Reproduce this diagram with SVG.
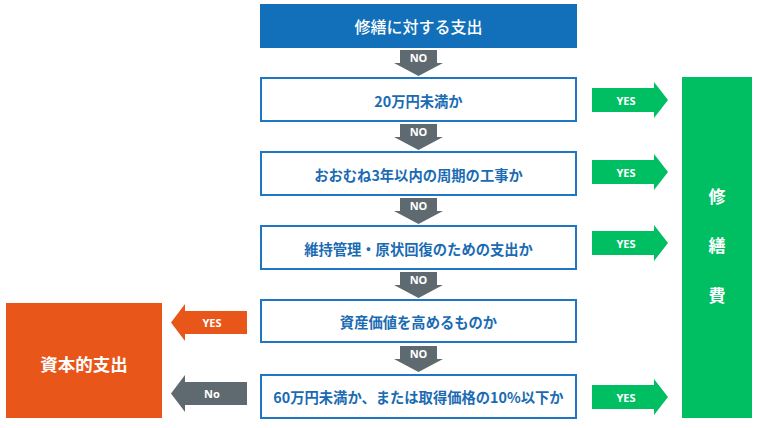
<svg xmlns="http://www.w3.org/2000/svg" width="760" height="428" viewBox="0 0 760 428">
<style>
.q{fill:#ffffff;stroke:#1f77c4;stroke-width:2}
.qt{font-family:"Noto Sans CJK JP","Noto Sans",sans-serif;font-weight:700;font-size:14.3px;fill:#1a6bb3;text-anchor:middle;dominant-baseline:central}
.lb{font-family:"Noto Sans","Liberation Sans",sans-serif;font-weight:700;font-size:11px;fill:#ffffff;text-anchor:middle;dominant-baseline:central}
.wt{font-family:"Noto Sans CJK JP",sans-serif;fill:#ffffff;text-anchor:middle;dominant-baseline:central}
.gray{fill:#5f6a70}
.green{fill:#00bf63}
.orange{fill:#e9561a}
</style>
<defs>
<path id="down" d="M400,0 H437 V13 H443 L418.5,26 L394,13 H400 Z"/>
<path id="right" d="M592,-12 H654 V-18 L668,0 L654,18 V12 H592 Z"/>
<path id="left" d="M247,-11.5 H185 V-18.5 L171,0 L185,18.5 V11.5 H247 Z"/>
</defs>
<g id="start">
<rect x="260" y="4" width="317" height="44" fill="#1170b9"/>
<text class="wt" x="418.5" y="26" font-size="16" font-weight="500">修繕に対する支出</text>
</g>
<g id="q1"><rect class="q" x="261" y="78" width="315" height="43"/><text class="qt" x="418.5" y="100">20万円未満か</text></g>
<g id="q2"><rect class="q" x="261" y="152" width="315" height="43"/><text class="qt" x="418.5" y="174">おおむね3年以内の周期の工事か</text></g>
<g id="q3"><rect class="q" x="261" y="226" width="315" height="43"/><text class="qt" x="418.5" y="248">維持管理・原状回復のための支出か</text></g>
<g id="q4"><rect class="q" x="261" y="300" width="315" height="42"/><text class="qt" x="418.5" y="321.5">資産価値を高めるものか</text></g>
<g id="q5"><rect class="q" x="261" y="375" width="315" height="43"/><text class="qt" x="418.5" y="396.5">60万円未満か、または取得価格の10%以下か</text></g>
<g id="repair">
<rect class="green" x="682" y="77" width="70" height="341"/>
<text class="wt" x="717" y="195" font-size="17" font-weight="700">修</text>
<text class="wt" x="717" y="244" font-size="17" font-weight="700">繕</text>
<text class="wt" x="717" y="294" font-size="17" font-weight="700">費</text>
</g>
<g id="capital">
<rect class="orange" x="6" y="303" width="156" height="115"/>
<text class="wt" x="84" y="363" font-size="17.5" font-weight="700">資本的支出</text>
</g>
<g id="connectors">
<use href="#down" class="gray" y="50"/><text class="lb" x="418.5" y="57">NO</text>
<use href="#down" class="gray" y="124"/><text class="lb" x="418.5" y="131">NO</text>
<use href="#down" class="gray" y="198"/><text class="lb" x="418.5" y="205">NO</text>
<use href="#down" class="gray" y="272"/><text class="lb" x="418.5" y="279">NO</text>
<use href="#down" class="gray" y="346"/><text class="lb" x="418.5" y="353">NO</text>
<use href="#right" class="green" y="100"/><text class="lb" x="626" y="100">YES</text>
<use href="#right" class="green" y="172"/><text class="lb" x="626" y="172">YES</text>
<use href="#right" class="green" y="243"/><text class="lb" x="626" y="243">YES</text>
<use href="#right" class="green" y="397"/><text class="lb" x="626" y="397">YES</text>
<use href="#left" class="orange" y="322.5"/><text class="lb" x="212" y="322.5">YES</text>
<use href="#left" class="gray" y="393.5"/><text class="lb" x="212" y="393.5">No</text>
</g>
</svg>
